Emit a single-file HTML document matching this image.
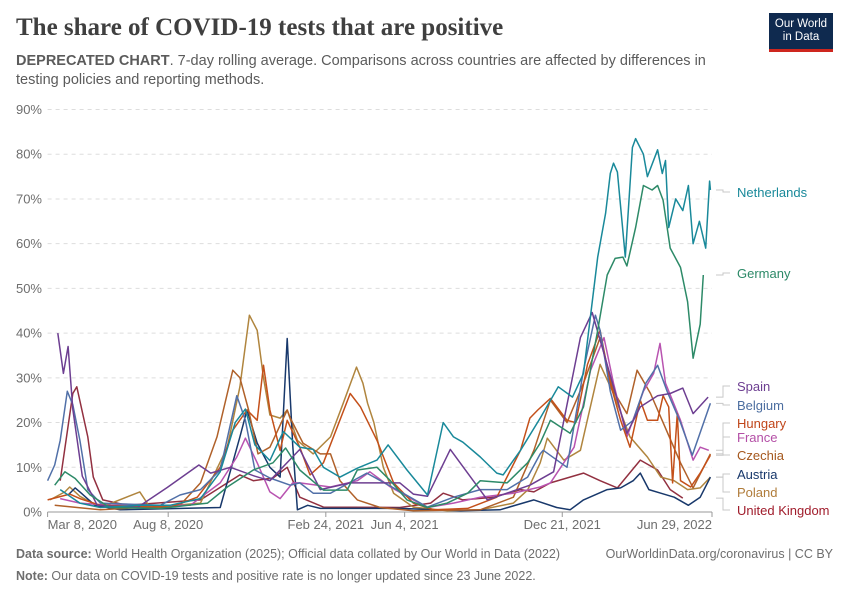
<!DOCTYPE html>
<html><head><meta charset="utf-8"><style>
body{margin:0;background:#fff;width:850px;height:600px;overflow:hidden;font-family:"Liberation Sans",sans-serif}
#title{position:absolute;left:16px;top:14px;font-family:"Liberation Serif",serif;font-size:25px;font-weight:bold;color:#3f3f3f;margin:0}
#sub{position:absolute;left:16px;top:52px;width:720px;font-size:14.5px;line-height:19px;color:#5b5b5b}
#logo{position:absolute;left:769px;top:13px;width:64px;height:39px;background:#0f2a4f;border-bottom:3px solid #ce261e;color:#fff;font-size:11.5px;line-height:13px;text-align:center;padding-top:5px;box-sizing:border-box}
.foot{position:absolute;left:16px;font-size:12.5px;color:#6e6e6e}
</style></head><body>
<div id="title">The share of COVID-19 tests that are positive</div>
<div id="sub"><b>DEPRECATED CHART</b>. 7-day rolling average. Comparisons across countries are affected by differences in testing policies and reporting methods.</div>
<div id="logo">Our World<br>in Data</div>
<svg id="chart" width="850" height="600" style="position:absolute;left:0;top:0"></svg>
<div class="foot" style="top:547px"><b>Data source:</b> World Health Organization (2025); Official data collated by Our World in Data (2022)</div>
<div class="foot" style="top:547px;left:auto;right:17px">OurWorldinData.org/coronavirus | CC BY</div>
<div class="foot" style="top:569px"><b>Note:</b> Our data on COVID-19 tests and positive rate is no longer updated since 23 June 2022.</div>
<script>
const yTicks=[0,10,20,30,40,50,60,70,80,90];
const xTickDays=[0,153,353,453,653,843];
const xTickLabels=["Mar 8, 2020","Aug 8, 2020","Feb 24, 2021","Jun 4, 2021","Dec 21, 2021","Jun 29, 2022"];
const countries=["Netherlands","Germany","Spain","Belgium","Hungary","France","Czechia","Austria","Poland","United Kingdom"];
const nlDays=[16,41,67,117,155,194,219,238,251,263,282,299,320,337,350,371,393,418,432,456,482,502,515,527,549,570,578,600,625,648,666,680,698,708,714,718,723,733,742,746,756,761,774,780,784,788,797,806,813,819,827,835,840,841];
const nlVals=[5,2,1,1.5,1.5,3,9,20,23,15,11.5,18,14.5,14,10,7.8,9.8,11.6,15,9.4,3.8,20,16.8,15.6,12.3,8.7,8.3,13.8,21,28,25.7,31,57,66.8,75.7,78,76,57,81.5,83.5,80,75,81,75.7,78.6,63.6,70,67.4,73,60,65,59,74,72];
const deDays=[9,22,35,54,79,143,203,228,261,286,302,320,350,380,393,418,435,456,482,507,533,549,583,609,625,638,663,680,698,710,720,730,735,746,756,767,774,781,790,803,812,819,828,832];
const deVals=[6,9,7.5,3.8,1,0.8,2,5.6,9.4,11,14.3,9.4,4.9,4.9,9.4,10,7,2.7,1,2,4.2,7,6.5,11,15.4,20.5,17.6,23.5,40.6,53,56.7,57,55,63.6,73,72,73,69.7,59,54.7,47,34.4,42,53];
const esDays=[13,20,26,32,44,63,114,152,192,207,232,263,282,320,346,384,447,464,482,511,558,612,642,676,691,735,752,774,790,806,819,838];
const esVals=[40,31,37,23,8,1.5,1,5.5,10.5,8.7,10,8,7,14,5,6.5,6.5,4,3.5,14,2.7,6,9,39,44.6,17.6,23.5,26,26.5,27.7,22,25.7];
const beDays=[0,9,16,25,32,41,51,67,143,168,194,219,240,251,263,282,308,320,337,359,405,451,482,515,549,583,609,625,629,659,680,695,701,714,727,743,759,774,786,803,818,841];
const beVals=[7,10.5,16,27,24,16,5,2,1.5,3.8,5,9.4,26,20.5,9.4,7.6,6,6.5,4.2,4.2,8.7,4.2,1.1,3.3,5,5,7.8,13,13.8,10,31.7,44,40.6,27,18.3,20.5,28.8,32.8,27,20,12.7,24.3];
const huDays=[0,28,41,67,155,190,219,235,253,266,274,282,295,304,320,333,350,384,397,418,439,464,490,533,570,600,612,622,638,659,670,685,701,714,727,739,752,761,774,781,788,793,799,803,816,828,841];
const huVals=[2.7,4,3,1.5,1,3.3,10,18.3,22.8,20.5,32.8,22.8,13.8,20.5,14.5,8.3,11,26.5,23.5,16,6.5,2,0.5,0.8,3.3,13.8,21,22.8,25.4,20.5,20,33,40.6,28.8,20.5,14.5,25,20.5,20.5,26,23.5,6.5,22,7,5.6,8.7,12.7];
const frDays=[16,41,79,181,219,240,251,266,282,295,311,320,359,393,409,435,464,482,515,549,591,625,638,668,689,706,718,735,756,769,777,784,803,819,828,839];
const frVals=[3,2,1.5,1.5,6.5,12.3,16.5,11,4.5,3,6.5,6.5,5.6,7,9,5.6,2.7,1,2,3.3,4.2,5.6,6.5,14.5,31.7,39,28.8,16.8,27,31,37.7,28.8,20.5,11.6,14.5,13.8];
const czDays=[9,67,168,194,215,235,244,255,267,282,304,308,324,346,359,371,393,422,464,549,591,617,638,659,680,701,718,735,748,765,781,803,819,841];
const czVals=[1.5,0.5,1.5,6.5,16.8,31.7,30,22.8,13,14.5,22.8,21,15.4,13,13,7,2.7,1,0.3,0.5,3.3,13.8,25,20,28.8,39,27,22,31.7,26.5,20,11,5.4,13];
const atDays=[26,35,41,60,92,219,244,253,266,282,295,304,311,317,330,346,447,524,574,617,646,663,680,710,727,743,752,763,778,795,813,828,841];
const atVals=[3.8,5.4,4.5,1.5,0.5,1,16.8,22.8,15.4,10,7.8,38.8,15,0.5,1.5,0.8,0.8,0.3,0.5,2.7,1,0.5,2.7,5,5.4,7,8.7,5,4.2,3.3,1.5,3.3,7.8];
const plDays=[3,22,28,41,67,117,130,194,228,244,256,266,274,282,295,304,317,337,359,375,392,400,406,414,426,439,464,507,549,591,609,625,634,655,676,701,718,739,761,778,795,812,828,841];
const plVals=[2.7,4.5,5.6,3.5,1,4.5,1,2,14.5,28,44,40.6,30,21.7,21,22.8,16,13,16.8,24.3,32.4,28.8,24.3,20,10,4.2,1.1,0.3,0.5,2,4.9,11,16.5,11.6,13.8,33,26.5,16.8,12.3,7.8,7,5,5.4,7.8];
const ukDays=[16,32,37,51,58,70,101,194,228,244,261,286,304,320,350,447,486,502,527,566,600,617,638,680,701,723,752,774,790,806];
const ukVals=[7,26.5,28,16.8,7.8,2.7,1.5,2.7,6.5,8.3,7,7.6,10,3.3,1.1,1,2,4.2,2.7,3.3,5,4.5,6.5,8.7,7,5.4,11.6,9.4,5,3.1];
const seriesDays=[nlDays,deDays,esDays,beDays,huDays,frDays,czDays,atDays,plDays,ukDays];
const seriesVals=[nlVals,deVals,esVals,beVals,huVals,frVals,czVals,atVals,plVals,ukVals];
const colors=["#19899a","#2d8a68","#6d3e91","#5170a8","#c4501a","#b853b0","#b0612a","#18386b","#b0853e","#923040"];
const labelY=[197,278,391,410,428,442,460,479,497,515];
const labelColors=["#19899a","#2d8a68","#6d3e91","#4c6ea0","#c0461a","#b44fa6","#a5581e","#18386b","#b07c3a","#a01c2b"];

const svg=document.getElementById('chart');const NS='http://www.w3.org/2000/svg';
const X0=47.6,X1=712,Y0=512,Y1=109.5;
const xs=d=>X0+d*(X1-X0)/843;
const ys=v=>Y0-v*(Y0-Y1)/90;
function mk(t,a){const e=document.createElementNS(NS,t);for(const k in a)e.setAttribute(k,a[k]);svg.appendChild(e);return e;}
yTicks.forEach(v=>{
  if(v>0){const g=mk('line',{x1:X0,x2:X1,y1:ys(v),y2:ys(v),stroke:'#dddddd','stroke-dasharray':'4,4'});
  
  }
  const t=mk('text',{x:42,y:ys(v)+4.5,'text-anchor':'end','font-size':'13','fill':'#6e6e6e','font-family':'Liberation Sans, sans-serif'});
  t.textContent=v+'%';
  
  
});
const ax=mk('line',{x1:X0,x2:X1,y1:Y0,y2:Y0,stroke:'#999'});


xTickDays.forEach((d,i)=>{
  const tk=mk('line',{x1:xs(d),x2:xs(d),y1:Y0,y2:Y0+5,stroke:'#999'});
  
  
  const anchor=i==0?'start':(i==xTickDays.length-1?'end':'middle');
  const t=mk('text',{x:xs(d),y:Y0+17,'text-anchor':anchor,'font-size':'13','fill':'#6e6e6e','font-family':'Liberation Sans, sans-serif'});
  t.textContent=xTickLabels[i];
  
  
});
for(let s=seriesDays.length-1;s>=0;s--){
  const pts=seriesDays[s].map((d,i)=>xs(d).toFixed(1)+','+ys(seriesVals[s][i]).toFixed(1)).join(' ');
  const p=mk('polyline',{points:pts,fill:'none',stroke:colors[s],'stroke-width':'1.5','stroke-linejoin':'round'});
  
  
}
countries.forEach((c,s)=>{
  const d=seriesDays[s],v=seriesVals[s];
  const endY=ys(v[v.length-1]);
  const ly=labelY[s]-5;
  const con=mk('polyline',{points:`716,${endY} 723,${endY} 723,${ly} 730,${ly}`,fill:'none',stroke:'#c8c8c8','stroke-width':'1'});
  
  
  const t=mk('text',{x:737,y:labelY[s],'font-size':'13','fill':labelColors[s],'font-family':'Liberation Sans, sans-serif'});
  t.textContent=c;
  
  
});
</script>
</body></html>
